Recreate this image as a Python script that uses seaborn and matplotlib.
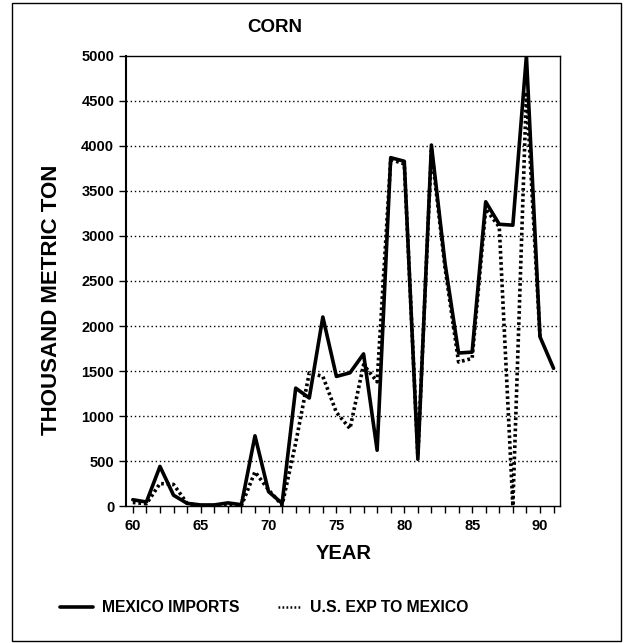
import matplotlib
matplotlib.use("Agg")
import matplotlib.pyplot as plt
import matplotlib.patches as patches
from matplotlib.lines import Line2D
from matplotlib.ticker import MultipleLocator
import numpy as np
import pandas as pd
import seaborn as sns

# data (thousand metric ton)
years = list(range(60, 92))
mexico_imports = [70, 45, 440, 120, 30, 12, 12, 35, 15, 780, 160, 30, 1310, 1200, 2100, 1440,
                  1480, 1690, 620, 3870, 3830, 520, 4010, 2700, 1700, 1710, 3380, 3130, 3120,
                  5000, 1880, 1530]
us_exports = [40, 25, 250, 240, 30, 5, 5, 10, 5, 380, 180, 10, 700, 1480, 1440, 1040,
              860, 1570, 1380, 3850, 3800, 560, 3950, 2650, 1600, 1640, 3300, 3100, 0,
              4600, 1880, np.nan]
series_names = ["MEXICO IMPORTS", "U.S. EXP TO MEXICO"]

df = pd.DataFrame({"year": years * 2,
                   "value": mexico_imports + us_exports,
                   "series": [series_names[0]] * len(years) + [series_names[1]] * len(years)})

sns.set_style("ticks")
plt.rcParams['font.family'] = ['Liberation Sans', 'DejaVu Sans']
plt.rcParams['font.weight'] = 'bold'
for k in ['text.color', 'axes.labelcolor', 'xtick.color', 'ytick.color', 'axes.edgecolor']:
    plt.rcParams[k] = 'black'

fig = plt.figure(figsize=(6.24, 6.43), dpi=100)
ax = fig.add_axes([0.202, 0.213, 0.696, 0.700])

dot = (0.75, 0.8)
sns.lineplot(data=df, x="year", y="value", style="series",
             dashes={series_names[0]: "", series_names[1]: dot},
             color="black", linewidth=2.6, legend=False, ax=ax)

ax.set_xlim(59.5, 91.5)
ax.set_ylim(0, 5000)
ax.xaxis.set_major_locator(MultipleLocator(5))
ax.xaxis.set_minor_locator(MultipleLocator(1))
ax.yaxis.set_major_locator(MultipleLocator(500))
ax.tick_params(axis='both', which='both', direction='out', length=5, width=1, colors='black',
               labelsize=10.5)
ax.tick_params(axis='x', pad=4)
for lab in ax.get_xticklabels() + ax.get_yticklabels():
    lab.set_fontweight('bold')

# dotted horizontal grid
for yv in range(500, 5000, 500):
    ax.axhline(yv, color='black', linestyle=(0, (1, 2)), linewidth=1, zorder=0)

for s in ax.spines.values():
    s.set_linewidth(1)
ax.spines['left'].set_linewidth(1.5)

ax.set_xlabel("YEAR", fontsize=14.5, fontweight='bold', labelpad=8)
ax.set_ylabel("THOUSAND METRIC TON", fontsize=16, fontweight='bold')
ax.yaxis.set_label_coords(-0.148, 0.458)
fig.text(0.44, 1 - 27 / 643, "CORN", ha='center', va='center', fontsize=13.5, fontweight='bold')

# legend, drawn by hand so the two keys can have different lengths
ly = 1 - 607 / 643
fig.add_artist(Line2D([60 / 624, 93 / 624], [ly, ly], color='black', linewidth=2.6,
                      transform=fig.transFigure))
fig.text(102 / 624, ly, series_names[0], ha='left', va='center', fontsize=11.3, fontweight='bold')
fig.add_artist(Line2D([278 / 624, 300 / 624], [ly, ly], color='black', linewidth=1.8,
                      linestyle=(0, (0.7, 0.9)), transform=fig.transFigure))
fig.text(310 / 624, ly, series_names[1], ha='left', va='center', fontsize=11.3, fontweight='bold')

# outer border
fig.patches.append(patches.Rectangle((12 / 624, 2 / 643), 609 / 624, 638 / 643,
                                     transform=fig.transFigure, fill=False,
                                     edgecolor='black', linewidth=1))

fig.savefig("out.png", dpi=100)
